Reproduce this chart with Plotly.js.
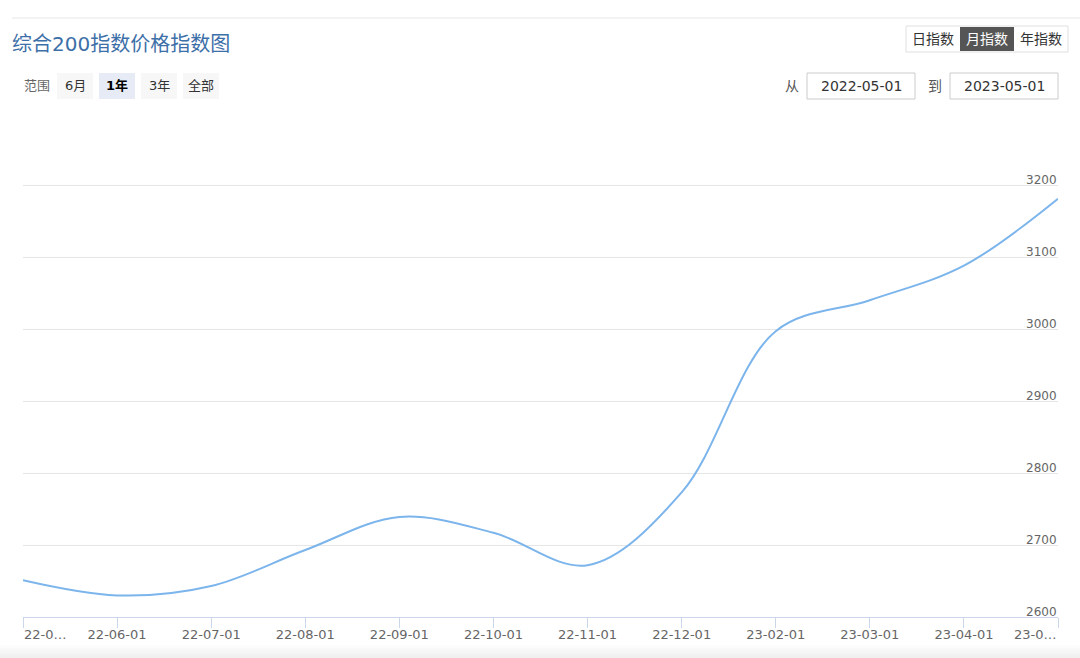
<!DOCTYPE html>
<html>
<head>
<meta charset="utf-8">
<script src="https://cdn.plot.ly/plotly-3.0.1.min.js"></script>
<style>
html,body{margin:0;padding:0;background:#fff;}
#chart{width:1080px;height:658px;}
</style>
</head>
<body>
<div id="chart"></div>
<script>
// ---- data ----
var categories = ["2022-05-01","2022-06-01","2022-07-01","2022-08-01","2022-09-01","2022-10-01",
                  "2022-11-01","2022-12-01","2023-02-01","2023-03-01","2023-04-01","2023-05-01"];
var tickLabels = ["22-0…","22-06-01","22-07-01","22-08-01","22-09-01","22-10-01",
                  "22-11-01","22-12-01","23-02-01","23-03-01","23-04-01","23-0…"];
var indexValues = [2651, 2630, 2643, 2693, 2739, 2717, 2672, 2773, 2997, 3040, 3088, 3181];
var yTickVals = [2600, 2700, 2800, 2900, 3000, 3100, 3200, 3300];
var yTickText = ["2600","2700","2800","2900","3000","3100","3200",""];
var chartTitle = "综合200指数价格指数图";
var rangeLabel = "范围";
var rangeButtons = ["6月","1年","3年","全部"];
var periodButtons = ["日指数","月指数","年指数"];
var fromLabel = "从", toLabel = "到";
var fromDate = "2022-05-01", toDate = "2023-05-01";

// ---- layout helpers (pixel -> paper) ----
var L = 23, R = 1058, T = 113, B = 617;
function px(x){ return (x - L) / (R - L); }
function py(y){ return (B - y) / (B - T); }

var FONT = "'DejaVu Sans', 'Noto Sans CJK SC', sans-serif";
var shapes = [], annotations = [];

function box(x0,y0,x1,y1,fill,line){
  shapes.push({type:'rect', xref:'paper', yref:'paper', x0:px(x0), x1:px(x1), y0:py(y1), y1:py(y0),
    fillcolor:fill, line:{color:line||fill, width:line?1:0}, layer:'below'});
}
function text(t,x,y,opts){
  opts = opts || {};
  annotations.push({xref:'paper', yref:'paper', x:px(x), y:py(y), text:t, showarrow:false,
    xanchor:opts.xanchor||'center', yanchor:'middle',
    font:{family:FONT, size:opts.size||13, color:opts.color||'#333', weight:opts.weight||'normal'}});
}

// top separator line
shapes.push({type:'line', xref:'paper', yref:'paper', x0:px(12), x1:px(1080), y0:py(18), y1:py(18),
  line:{color:'#e6e6e6', width:1}});
// title
text(chartTitle, 10, 44, {xanchor:'left', size:20, color:'#3d6fa8'});

// range selector
text(rangeLabel, 22, 86, {xanchor:'left', color:'#666', size:13});
var rbX = [57, 99, 141, 183];
rangeButtons.forEach(function(b,i){
  var sel = (i===1);
  box(rbX[i], 73, rbX[i]+36, 99, sel ? '#e6ebf5' : '#f7f7f7');
  text(b, rbX[i]+18, 86, {color: sel ? '#000' : '#333', weight: sel ? 'bold' : 'normal', size:13});
});

// period buttons
var pbX = [906, 960, 1014];
box(906, 26, 1068, 52, '#ffffff', '#e0e0e0');
periodButtons.forEach(function(b,i){
  var sel = (i===1);
  if (sel) box(pbX[i], 27, pbX[i]+54, 51, '#555555');
  text(b, pbX[i]+27, 39, {color: sel ? '#ffffff' : '#333', size:14});
});

// date inputs
text(fromLabel, 792, 86, {color:'#555', size:14});
box(807, 73, 915, 99, '#ffffff', '#cccccc');
text(fromDate, 861, 86, {color:'#333', size:14});
text(toLabel, 935, 86, {color:'#555', size:14});
box(950, 73, 1058, 99, '#ffffff', '#cccccc');
text(toDate, 1004, 86, {color:'#333', size:14});

// bottom grey band
for (var k=0;k<6;k++){
  var c = 255 - k*3;
  var col = 'rgb('+c+','+c+','+c+')';
  shapes.push({type:'rect', xref:'paper', yref:'paper', x0:px(0), x1:px(1080),
    y0:py(658), y1:py(643+k*2.5), fillcolor:col, line:{width:0}, layer:'below'});
}

// edge tick labels (truncated)
annotations.push({xref:'x', yref:'paper', x:categories[0], y:py(634), text:tickLabels[0], showarrow:false,
  xanchor:'left', yanchor:'middle', xshift:-1, font:{family:FONT, size:13, color:'#666'}});
annotations.push({xref:'x', yref:'paper', x:categories[categories.length-1], y:py(634),
  text:tickLabels[tickLabels.length-1], showarrow:false,
  xanchor:'right', yanchor:'middle', xshift:1, font:{family:FONT, size:13, color:'#666'}});

// y-axis labels sitting above their gridlines, right-aligned
yTickVals.forEach(function(v,i){
  if (!yTickText[i]) return;
  annotations.push({xref:'paper', yref:'y', x:1, y:v, text:yTickText[i], showarrow:false,
    xanchor:'right', yanchor:'bottom', yshift:-4, xshift:1,
    font:{family:FONT, size:12, color:'#666'}});
});

var midTickText = tickLabels.map(function(t,i){ return (i===0 || i===tickLabels.length-1) ? '' : t; });

var trace = {
  type:'scatter', mode:'lines', x:categories, y:indexValues,
  line:{color:'#7cb5ec', width:2, shape:'spline', smoothing:1},
  hoverinfo:'x+y', cliponaxis:true
};

var layout = {
  width:1080, height:658,
  margin:{l:L, r:1080-R, t:T, b:658-B, pad:0},
  paper_bgcolor:'#ffffff', plot_bgcolor:'rgba(0,0,0,0)',
  showlegend:false,
  font:{family:FONT, size:13, color:'#666'},
  xaxis:{
    type:'category', range:[0, categories.length-1],
    tickvals:categories, ticktext:midTickText,
    ticks:'outside', ticklen:10, tickcolor:'#ccd6eb', tickwidth:1,
    ticklabelstandoff:-5,
    showline:true, linecolor:'#ccd6eb', linewidth:1,
    showgrid:false, zeroline:false, fixedrange:true,
    tickfont:{family:FONT, size:13, color:'#666'}
  },
  yaxis:{
    range:[2600, 3300], side:'right',
    tickvals:yTickVals, showticklabels:false,
    showgrid:true, gridcolor:'#e6e6e6', gridwidth:1,
    zeroline:false, showline:false, ticks:'', fixedrange:true
  },
  shapes:shapes, annotations:annotations
};

Plotly.newPlot('chart', [trace], layout, {displayModeBar:false, staticPlot:true});
</script>
</body>
</html>
